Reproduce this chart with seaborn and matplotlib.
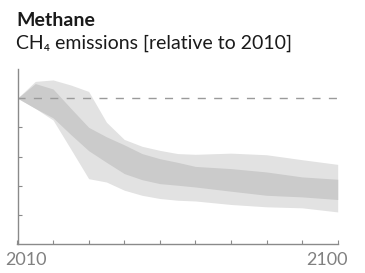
import matplotlib
matplotlib.use("Agg")
import matplotlib.pyplot as plt
import matplotlib.transforms as mtransforms
import seaborn as sns
import numpy as np

years = [2010, 2015, 2020, 2025, 2030, 2035, 2040, 2045, 2050, 2055, 2060, 2070, 2080, 2090, 2100]
outer_hi = [1.00, 1.115, 1.125, 1.09, 1.046, 0.835, 0.717, 0.67, 0.642, 0.62, 0.615, 0.623, 0.612, 0.578, 0.546]
outer_lo = [1.00, 0.93, 0.85, 0.65, 0.448, 0.425, 0.369, 0.334, 0.312, 0.30, 0.295, 0.271, 0.255, 0.248, 0.22]
inner_hi = [1.00, 1.10, 1.063, 0.93, 0.80, 0.735, 0.68, 0.62, 0.585, 0.56, 0.532, 0.517, 0.494, 0.46, 0.444]
inner_lo = [1.00, 0.93, 0.865, 0.75, 0.64, 0.56, 0.483, 0.441, 0.414, 0.403, 0.391, 0.362, 0.334, 0.323, 0.305]
tick_years = [2010, 2020, 2030, 2040, 2050, 2060, 2070, 2080, 2090, 2100]
label_years = ["2010", "", "", "", "", "", "", "", "", "2100"]

sns.set_theme(style="white")
plt.rcParams["font.family"] = ["Lato", "DejaVu Sans"]

fig = plt.figure(figsize=(3.65, 2.73), dpi=100)
ax = fig.add_axes([17.5 / 365, 1 - 244 / 273, (337.7 - 17.5) / 365, (244 - 69) / 273])

ax.fill_between(years, outer_lo, outer_hi, color="#e2e2e2", lw=0)
ax.fill_between(years, inner_lo, inner_hi, color="#cbcbcb", lw=0)
ax.plot([2010, 2100], [1, 1], ls=(0, (5.8, 6)), color="#9a9a9a", lw=1)

ax.set_xlim(2010, 2100)
ax.set_ylim(0, 1.2)
ax.set_xticks(tick_years)
ax.set_xticklabels(label_years)
ax.set_yticks([0.2, 0.4, 0.6, 0.8, 1.0])
ax.set_yticklabels([])
ax.tick_params(axis="x", direction="in", length=3, width=0.8, color="#8a8a8a",
               labelsize=13, labelcolor="#808080", pad=6, bottom=True)
ax.tick_params(axis="y", direction="in", length=3, width=0.8, color="#8a8a8a", left=True)
for s in ["top", "right"]:
    ax.spines[s].set_visible(False)
for s in ["left", "bottom"]:
    ax.spines[s].set_color("#8a8a8a")
    ax.spines[s].set_linewidth(1)

labels = ax.get_xticklabels()
labels[0].set_transform(labels[0].get_transform() + mtransforms.ScaledTranslation(8.5 / 100, 0, fig.dpi_scale_trans))
labels[-1].set_transform(labels[-1].get_transform() + mtransforms.ScaledTranslation(-11 / 100, 0, fig.dpi_scale_trans))

fig.text(16.5 / 365, 1 - 25.5 / 273, "Methane", fontsize=14, fontweight="bold", color="#1a1a1a")
fig.text(16.5 / 365, 1 - 49 / 273, "CH\u2084 emissions [relative to 2010]", fontsize=14, color="#1a1a1a")

fig.savefig("out.png", dpi=100)
